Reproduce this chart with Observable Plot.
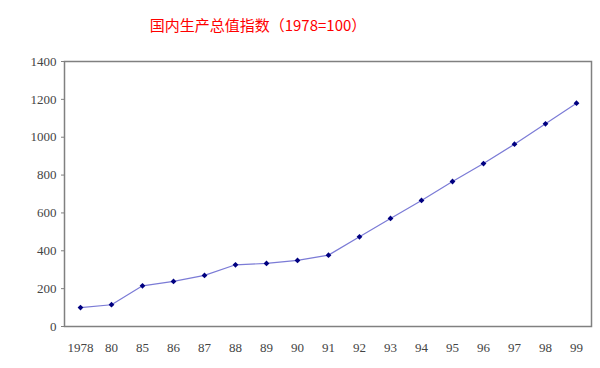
<!DOCTYPE html>
<html>
<head>
<meta charset="utf-8">
<script src="https://cdn.jsdelivr.net/npm/d3@7"></script>
<script src="https://cdn.jsdelivr.net/npm/@observablehq/plot@0.6"></script>
<style>
  html, body { margin: 0; padding: 0; background: #fff; }
  #wrap { position: relative; width: 600px; height: 368px; overflow: hidden; }
  #title { position: absolute; left: 0; top: 15px; width: 516px; text-align: center;
    font-family: "Noto Sans CJK SC", sans-serif; font-size: 15px; color: #ff0000; line-height: 20px; }
  #chart { position: absolute; left: 0; top: 40px; }
</style>
</head>
<body>
<div id="wrap">
  <div id="title">国内生产总值指数（1978=100）</div>
  <div id="chart"></div>
</div>
<script>
const years = ["1978", "80", "85", "86", "87", "88", "89", "90", "91", "92", "93", "94", "95", "96", "97", "98", "99"];
const values = [100, 115, 215, 238, 270, 326, 333, 349, 377, 474, 571, 666, 766, 861, 963, 1071, 1180];
const yTicks = [0, 200, 400, 600, 800, 1000, 1200, 1400];

const data = years.map((y, i) => ({year: y, value: values[i]}));

const chart = Plot.plot({
  width: 600,
  height: 328,
  marginTop: 21,
  marginBottom: 42,
  marginLeft: 64,
  marginRight: 9,
  style: {fontFamily: "'Liberation Serif', serif", fontSize: "13px", color: "#444"},
  x: {type: "point", domain: years, padding: 0.5, label: null},
  y: {domain: [0, 1400], ticks: yTicks, label: null},
  marks: [
    Plot.frame({stroke: "#808080", strokeWidth: 1.5}),
    Plot.axisX({tickSize: 0, tickPadding: 16, label: null}),
    Plot.axisY({ticks: yTicks, tickSize: 3, tickPadding: 5, label: null, tickFormat: d => String(d), stroke: "#808080"}),
    Plot.line(data, {x: "year", y: "value", stroke: "#7b7bd6", strokeWidth: 1.2}),
    Plot.dot(data, {x: "year", y: "value", symbol: "diamond2", r: 2.6, fill: "#000080", stroke: "none"})
  ]
});
document.getElementById("chart").appendChild(chart);
</script>
</body>
</html>
